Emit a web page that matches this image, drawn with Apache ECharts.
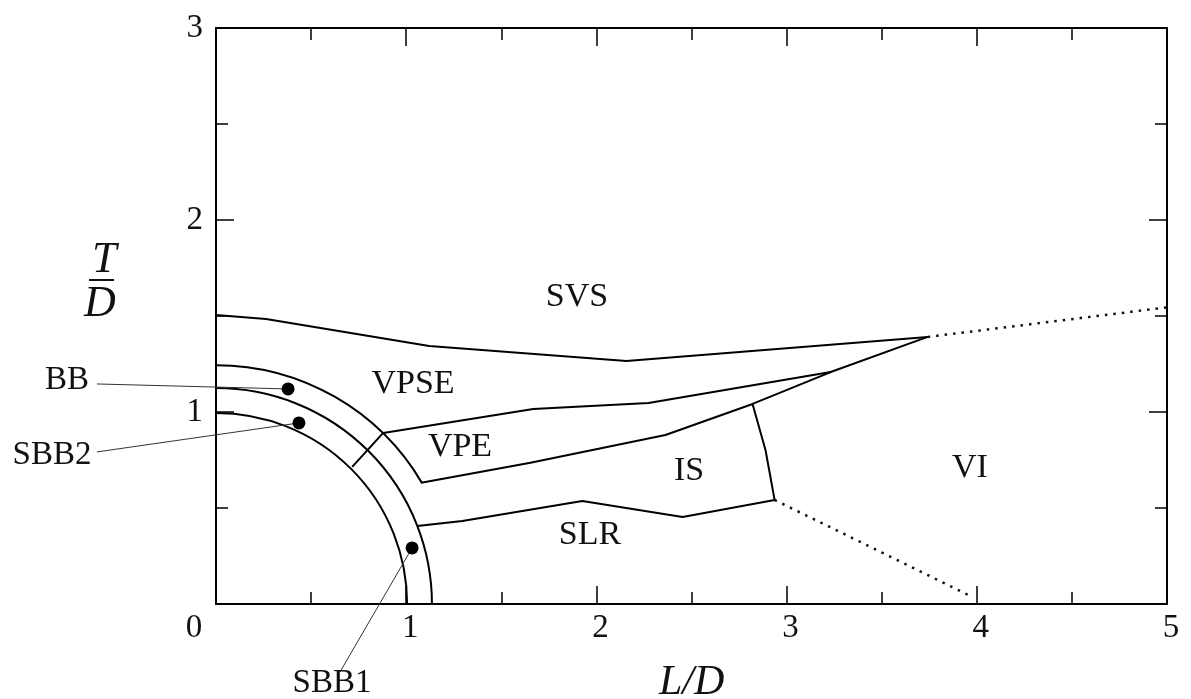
<!DOCTYPE html>
<html>
<head>
<meta charset="utf-8">
<script src="https://cdn.jsdelivr.net/npm/echarts@6/dist/echarts.min.js"></script>
<style>
html,body{margin:0;padding:0;background:#fff;}
#chart{width:1191px;height:699px;}
</style>
</head>
<body>
<div id="chart"></div>
<script>
// ---- data (L/D, T/D) ----
const xTicks = [0, 1, 2, 3, 4, 5];
const yTicks = [0, 1, 2, 3];

// boundary SVS / VPSE
const svsBoundary = [[0, 1.505], [0.263, 1.484], [1.121, 1.344], [2.158, 1.266], [3.742, 1.391]];
const svsDotted = [[3.742, 1.391], [5.0, 1.545]];
// boundary VPSE / VPE (upper)
const vpeUpper = [[0.879, 0.891], [1.668, 1.016], [2.274, 1.047], [3.232, 1.208]];
// short cross segment between arcs
const crossSeg = [[0.879, 0.891], [0.716, 0.714]];
// boundary VPE lower / IS top, to the tip
const vpeLower = [[1.079, 0.632], [1.653, 0.736], [2.363, 0.880], [2.821, 1.042], [3.232, 1.208], [3.742, 1.391]];
// IS right side and SLR upper boundary
const isSlr = [[2.821, 1.042], [2.889, 0.802], [2.937, 0.542], [2.453, 0.453], [1.926, 0.536], [1.295, 0.432], [1.058, 0.406]];
const viDotted = [[2.937, 0.542], [3.97, 0.04]];
// quarter arcs: [radius, end angle (deg above the L/D axis)]
const arcs = [[1.0, 0], [1.13, 0], [1.25, 30.4]];
// marked points
const points = [[0.379, 1.120], [0.436, 0.943], [1.031, 0.292]];
// leader lines for point labels: [x1, y1, x2, y2]
const leaders = [
  [-0.626, 1.146, 0.379, 1.120],
  [-0.626, 0.792, 0.436, 0.943],
  [0.652, -0.354, 1.031, 0.292]
];
// region labels
const regionNames = ['SVS', 'VPSE', 'VPE', 'IS', 'VI', 'SLR'];
const regionPos = [[1.898, 1.599], [1.036, 1.146], [1.283, 0.818], [2.487, 0.693], [3.964, 0.708], [1.966, 0.359]];
const pointNames = ['BB', 'SBB2', 'SBB1'];
const pointLabelPos = [[-0.783, 1.167], [-0.862, 0.776], [0.610, -0.411]];

const FONT = '"Liberation Serif", "Times New Roman", serif';
const TXT = '#111';

const chart = echarts.init(document.getElementById('chart'));

function lineSeries(data, opts) {
  return Object.assign({
    type: 'line', data: data, symbol: 'none', silent: true, animation: false,
    lineStyle: { color: '#000', width: 2 }
  }, opts || {});
}

const axisCommon = {
  type: 'value',
  axisLine: { show: true, onZero: false, lineStyle: { color: '#000', width: 2 } },
  axisTick: { show: true, inside: true, length: 18, lineStyle: { color: '#000', width: 1.5 } },
  minorTick: { show: true, splitNumber: 2, length: 12, lineStyle: { color: '#000', width: 1.5 } },
  splitLine: { show: false },
  minorSplitLine: { show: false }
};

const option = {
  animation: false,
  backgroundColor: '#fff',
  grid: { left: 216, top: 28, right: 24, bottom: 95, containLabel: false },
  xAxis: [
    Object.assign({}, axisCommon, {
      min: 0, max: 5, interval: 1, position: 'bottom',
      axisLabel: {
        show: true, margin: 8, color: TXT, fontFamily: FONT, fontSize: 33,
        formatter: v => v === 0 ? '{z|0}' : '{n|' + v + '}',
        rich: {
          z: { fontFamily: FONT, fontSize: 33, color: TXT, padding: [0, 44, 0, 0] },
          n: { fontFamily: FONT, fontSize: 33, color: TXT, padding: [0, 0, 0, 8] }
        }
      }
    }),
    Object.assign({}, axisCommon, {
      min: 0, max: 5, interval: 1, position: 'top',
      axisLabel: { show: false }
    })
  ],
  yAxis: [
    Object.assign({}, axisCommon, {
      min: 0, max: 3, interval: 1, position: 'left',
      axisLabel: {
        show: true, margin: 13, color: TXT, fontFamily: FONT, fontSize: 33,
        formatter: v => v === 0 ? '' : String(v)
      }
    }),
    Object.assign({}, axisCommon, {
      min: 0, max: 3, interval: 1, position: 'right',
      axisLabel: { show: false }
    })
  ],
  graphic: [
    { type: 'text', left: 92, top: 238, style: { text: 'T', font: 'italic 44px ' + FONT, fill: TXT } },
    { type: 'line', shape: { x1: 89, y1: 280, x2: 114, y2: 280 }, style: { stroke: TXT, lineWidth: 2 } },
    { type: 'text', left: 84, top: 282, style: { text: 'D', font: 'italic 44px ' + FONT, fill: TXT } },
    { type: 'text', left: 659, top: 662, style: { text: 'L/D', font: 'italic 42px ' + FONT, fill: TXT } }
  ],
  series: [
    lineSeries(svsBoundary),
    lineSeries(svsDotted, { lineStyle: { color: '#111', width: 2.5, type: [2.5, 6] } }),
    lineSeries(vpeUpper),
    lineSeries(crossSeg),
    lineSeries(vpeLower),
    lineSeries(isSlr),
    lineSeries(viDotted, { lineStyle: { color: '#111', width: 2.5, type: [2.5, 6] } }),
    {
      type: 'custom', coordinateSystem: 'cartesian2d', silent: true, animation: false,
      clip: false,
      data: arcs,
      renderItem: function (params, api) {
        const c = api.coord([0, 0]);
        const r = api.value(0);
        const s = api.size([r, r]);
        const rad = (s[0] + s[1]) / 2;
        const end = api.value(1) * Math.PI / 180;
        return {
          type: 'arc',
          shape: { cx: c[0], cy: c[1], r: rad, startAngle: -Math.PI / 2, endAngle: -end, clockwise: true },
          style: { stroke: '#000', lineWidth: 2, fill: null }
        };
      }
    },
    {
      type: 'custom', coordinateSystem: 'cartesian2d', silent: true, animation: false,
      clip: false,
      data: leaders,
      encode: { x: [0, 2], y: [1, 3] },
      renderItem: function (params, api) {
        const p1 = api.coord([api.value(0), api.value(1)]);
        const p2 = api.coord([api.value(2), api.value(3)]);
        return {
          type: 'line',
          shape: { x1: p1[0], y1: p1[1], x2: p2[0], y2: p2[1] },
          style: { stroke: '#333', lineWidth: 1 }
        };
      }
    },
    {
      type: 'scatter', data: points, symbol: 'circle', symbolSize: 13, silent: true, animation: false,
      itemStyle: { color: '#000', opacity: 1 }, clip: false, z: 5
    },
    {
      type: 'scatter', silent: true, animation: false, clip: false, symbolSize: 0,
      itemStyle: { opacity: 1 },
      data: regionNames.map((n, i) => ({ name: n, value: regionPos[i] })),
      label: { show: true, position: 'inside', formatter: p => p.name, color: TXT, fontFamily: FONT, fontSize: 34 }
    },
    {
      type: 'scatter', silent: true, animation: false, clip: false, symbolSize: 0,
      itemStyle: { opacity: 1 },
      data: pointNames.map((n, i) => ({ name: n, value: pointLabelPos[i] })),
      label: { show: true, position: 'inside', formatter: p => p.name, color: TXT, fontFamily: FONT, fontSize: 33 }
    }
  ]
};
chart.setOption(option);
</script>
</body>
</html>
